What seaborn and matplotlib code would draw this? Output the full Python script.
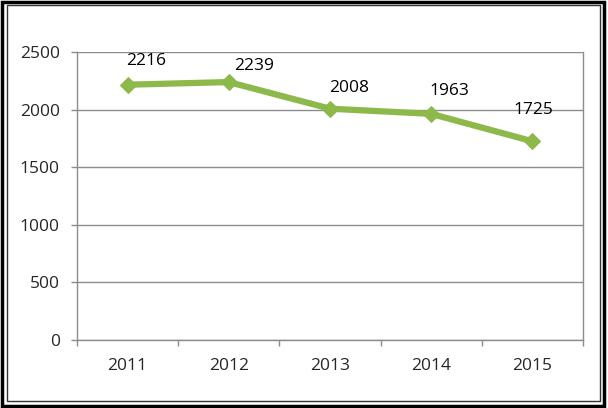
import seaborn as sns
import matplotlib.pyplot as plt
from matplotlib.patches import Rectangle
from matplotlib.ticker import FixedLocator

years = ["2011", "2012", "2013", "2014", "2015"]
values = [2216, 2239, 2008, 1963, 1725]
y_ticks = [0, 500, 1000, 1500, 2000, 2500]

# label offsets from each point, in pixels (right, up)
label_offsets = [(19, 24), (25, 16), (19, 21), (18, 23), (1, 31)]

sns.set_style("white")
plt.rcParams['font.family'] = ['Open Sans', 'DejaVu Sans']

fig = plt.figure(figsize=(6.08, 4.08), dpi=100)
ax = fig.add_axes([77 / 608, 1 - 340 / 408, (583 - 77) / 608, (340 - 52) / 408])

pos = list(range(len(years)))
sns.lineplot(x=pos, y=values, ax=ax, color="#8DB84A", linewidth=4.5,
             marker="D", markersize=8, markeredgecolor="#8DB84A")

for x, v, (dx, dy) in zip(pos, values, label_offsets):
    ax.annotate(str(v), (x, v), xytext=(dx * 0.72, dy * 0.72), textcoords="offset points",
                ha="center", va="center", fontsize=12.5, color="black")

ax.set_xlim(-0.5, len(years) - 0.5)
ax.set_ylim(0, 2500)
ax.set_yticks(y_ticks)
ax.set_xticks(pos)
ax.set_xticklabels(years)
ax.xaxis.set_minor_locator(FixedLocator([p - 0.5 for p in pos] + [len(years) - 0.5]))
ax.yaxis.grid(True, color="#8c8c8c", linewidth=1)
ax.set_axisbelow(True)

for side in ["left", "bottom", "right"]:
    ax.spines[side].set_visible(True)
    ax.spines[side].set_color("#8c8c8c")
    ax.spines[side].set_linewidth(1)
ax.spines["top"].set_visible(False)

ax.tick_params(axis="y", which="major", length=4.5, width=1, color="#8c8c8c",
               labelsize=12.5, pad=8, left=True)
ax.tick_params(axis="x", which="major", length=0, labelsize=12.5, pad=13)
ax.tick_params(axis="x", which="minor", length=4.5, width=1, color="#8c8c8c", bottom=True)

# outer frame
fig.patches.append(Rectangle((0.004, 0.006), 0.99, 0.99, transform=fig.transFigure,
                             fill=False, edgecolor="black", linewidth=2.5))
fig.patches.append(Rectangle((0.011, 0.017), 0.976, 0.97, transform=fig.transFigure,
                             fill=False, edgecolor="#333333", linewidth=1))

fig.savefig("out.png", dpi=100)
